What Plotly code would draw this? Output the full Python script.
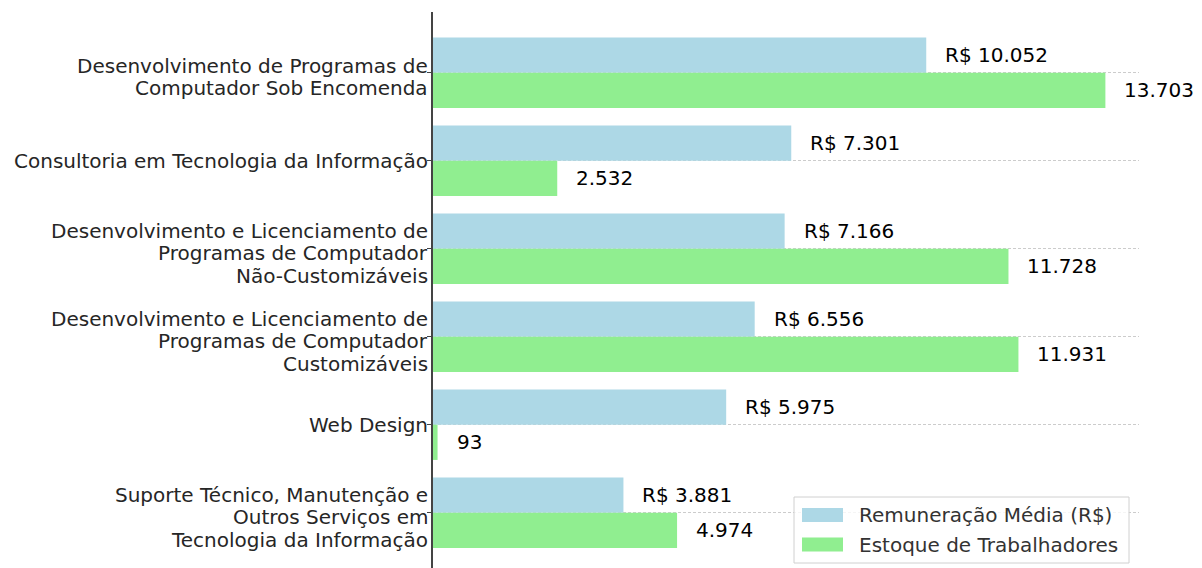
import plotly.graph_objects as go

categories = [
    "Desenvolvimento de Programas de<br>Computador Sob Encomenda",
    "Consultoria em Tecnologia da Informação",
    "Desenvolvimento e Licenciamento de<br>Programas de Computador<br>Não-Customizáveis",
    "Desenvolvimento e Licenciamento de<br>Programas de Computador<br>Customizáveis",
    "Web Design",
    "Suporte Técnico, Manutenção e<br>Outros Serviços em<br>Tecnologia da Informação",
]
remuneracao = [10052, 7301, 7166, 6556, 5975, 3881]
estoque = [13703, 2532, 11728, 11931, 93, 4974]
series_names = ["Remuneração Média (R$)", "Estoque de Trabalhadores"]
series_colors = ["#ADD8E6", "#90EE90"]

def br(v):
    return f"{v:,}".replace(",", ".")

pos = list(range(len(categories)))

# figure geometry (page body has an 8px offset)
OFF = 8
W, H = 1202 - OFF, 568 - OFF
L, R, T, B = 433 - OFF, 63, 12 - OFF, 0
PW, PH = W - L - R, H - T - B

def px(xa):  # absolute page x -> paper
    return (xa - OFF - L) / PW

def py(ya):  # absolute page y -> paper
    return 1 - (ya - OFF - T) / PH

fig = go.Figure()
fig.add_trace(go.Bar(
    y=pos, x=remuneracao, orientation="h", name=series_names[0],
    marker=dict(color=series_colors[0], line=dict(width=0)), showlegend=False,
))
fig.add_trace(go.Bar(
    y=pos, x=estoque, orientation="h", name=series_names[1],
    marker=dict(color=series_colors[1], line=dict(width=0)), showlegend=False,
))

annotations = []
for i, (r, e) in enumerate(zip(remuneracao, estoque)):
    annotations.append(dict(x=r, y=i - 0.2, text=f"R$ {br(r)}", xanchor="left",
                            yanchor="middle", xshift=17, showarrow=False,
                            font=dict(size=20, color="#000")))
    annotations.append(dict(x=e, y=i + 0.2, text=br(e), xanchor="left",
                            yanchor="middle", xshift=17, showarrow=False,
                            font=dict(size=20, color="#000")))

# category labels, one annotation per line for tighter line spacing
for i, cat in enumerate(categories):
    lines = cat.split("<br>")
    n = len(lines)
    extra = -4.5 if n > 1 else 0
    for k, ln in enumerate(lines):
        annotations.append(dict(x=0, xref="paper", y=i, yref="y", text=ln,
                                xanchor="right", yanchor="middle", xshift=-3.5,
                                yshift=-(k - (n - 1) / 2) * 22.5 + extra,
                                showarrow=False,
                                font=dict(size=20, color="#262626")))

# custom legend
shapes = [dict(type="rect", xref="paper", yref="paper",
               x0=px(794), x1=px(1129), y0=py(563), y1=py(497),
               line=dict(color="#d0d0d0", width=1),
               fillcolor="rgba(255,255,255,0.8)", layer="above")]
for j, (nm, col) in enumerate(zip(series_names, series_colors)):
    ytop = 508 + j * 29.5
    shapes.append(dict(type="rect", xref="paper", yref="paper",
                       x0=px(802), x1=px(843), y0=py(ytop + 14), y1=py(ytop),
                       line=dict(width=0), fillcolor=col, layer="above"))
    annotations.append(dict(x=px(857), y=py(ytop + 7), xref="paper", yref="paper",
                            text=nm, xanchor="left", yanchor="middle",
                            showarrow=False, font=dict(size=20, color="#333333")))

fig.update_layout(
    width=W, height=H,
    margin=dict(l=L, r=R, t=T, b=B),
    plot_bgcolor="white", paper_bgcolor="white",
    barmode="group", bargap=0.2, bargroupgap=0,
    font=dict(family="DejaVu Sans", size=20, color="#262626"),
    annotations=annotations, shapes=shapes, showlegend=False,
    xaxis=dict(range=[0, 14388], showgrid=False, showline=False,
               showticklabels=False, ticks="", zeroline=False),
    yaxis=dict(range=[5.628, -0.69], tickvals=pos, showticklabels=False,
               showline=True, linecolor="#444444", linewidth=1.5,
               ticks="outside", ticklen=4, tickcolor="#444444", tickwidth=1,
               showgrid=True, gridcolor="#cccccc", gridwidth=0.8,
               griddash="3px,2px", zeroline=False),
)

fig.write_html("out.html")
